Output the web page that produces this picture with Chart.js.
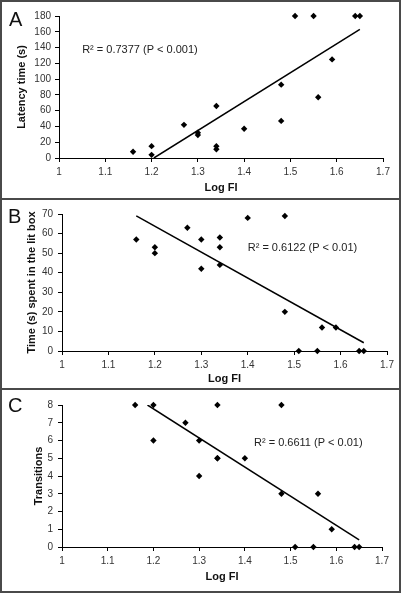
<!DOCTYPE html>
<html>
<head>
<meta charset="utf-8">
<script src="https://cdn.jsdelivr.net/npm/chart.js@4.4.1/dist/chart.umd.min.js"></script>
<style>
  html, body { margin: 0; padding: 0; background: #fff; }
  #wrap { position: relative; width: 401px; height: 593px; overflow: hidden; background: #fff; }
  canvas { position: absolute; left: 0; }
  .ln { position: absolute; background: #4a4a4a; z-index: 5; }
  .lbl { position: absolute; font-family: "Liberation Sans", Arial, sans-serif; font-size: 20px; color: #111; z-index: 6; line-height: 1; }
</style>
</head>
<body>
<div id="wrap">
  <canvas id="cA" width="401" height="199" style="top:0;width:401px;height:199px"></canvas>
  <canvas id="cB" width="401" height="189" style="top:200px;width:401px;height:189px"></canvas>
  <canvas id="cC" width="401" height="201" style="top:390px;width:401px;height:201px"></canvas>
  <div class="ln" style="left:0;top:0;width:401px;height:2px"></div>
  <div class="ln" style="left:0;top:591px;width:401px;height:2px"></div>
  <div class="ln" style="left:0;top:0;width:2px;height:593px"></div>
  <div class="ln" style="left:399px;top:0;width:2px;height:593px"></div>
  <div class="ln" style="left:0;top:198px;width:401px;height:2px"></div>
  <div class="ln" style="left:0;top:388px;width:401px;height:2px"></div>
  <div class="lbl" style="left:9px;top:9px">A</div>
  <div class="lbl" style="left:8px;top:206px">B</div>
  <div class="lbl" style="left:8px;top:395px">C</div>
</div>
<script>
// ---- data ----
const logFI = [1.16, 1.20, 1.20, 1.27, 1.30, 1.30, 1.34, 1.34, 1.34, 1.40, 1.48, 1.48, 1.51, 1.55, 1.56, 1.59, 1.64, 1.65];
const latency = [8, 15, 4, 42, 32, 29, 66, 15, 11, 37, 93, 47, 180, 180, 77, 125, 180, 180];
const litTime = [57, 53, 50, 63, 57, 42, 58, 53, 44, 68, 69, 20, 0, 0, 12, 12, 0, 0];
const transitions = [8, 8, 6, 7, 6, 4, 8, 5, 5, 5, 8, 3, 0, 0, 3, 1, 0, 0];

const trendA_x = [1.205, 1.65], trendA_y = [0, 163];
const trendB_x = [1.16, 1.65], trendB_y = [69, 4.2];
const trendC_x = [1.187, 1.65], trendC_y = [8, 0.4];

const xTicks = [1, 1.1, 1.2, 1.3, 1.4, 1.5, 1.6, 1.7];
const yTicksA = [0, 20, 40, 60, 80, 100, 120, 140, 160, 180];
const yTicksB = [0, 10, 20, 30, 40, 50, 60, 70];
const yTicksC = [0, 1, 2, 3, 4, 5, 6, 7, 8];

const titleX = "Log FI";
const titleA = "Latency time (s)";
const titleB = "Time (s) spent in the lit box";
const titleC = "Transitions";
const noteA = "R\u00B2 = 0.7377 (P < 0.001)";
const noteB = "R\u00B2 = 0.6122 (P < 0.01)";
const noteC = "R\u00B2 = 0.6611 (P < 0.01)";

const FONT = '"Liberation Sans", Arial, sans-serif';

function pts(xs, ys) { return xs.map((x, i) => ({ x: x, y: ys[i] })); }

const notePlugin = {
  id: 'note',
  afterDatasetsDraw(chart, args, opts) {
    const ctx = chart.ctx;
    const px = chart.scales.x.getPixelForValue(opts.x);
    const py = chart.scales.y.getPixelForValue(opts.y);
    ctx.save();
    ctx.font = '11px ' + FONT;
    ctx.fillStyle = '#222';
    ctx.textBaseline = 'middle';
    ctx.textAlign = 'left';
    ctx.fillText(opts.text, px, py);
    ctx.restore();
  }
};

function makeChart(id, ys, yTicks, tx, ty, yTitle, cfg) {
  const ymin = yTicks[0], ymax = yTicks[yTicks.length - 1];
  const step = yTicks[1] - yTicks[0];
  return new Chart(document.getElementById(id), {
    type: 'scatter',
    data: {
      datasets: [
        {
          data: pts(logFI, ys),
          pointStyle: 'rectRot',
          pointRadius: 3.2,
          pointBackgroundColor: '#000',
          pointBorderColor: '#000',
          pointBorderWidth: 0,
          showLine: false,
          clip: false
        },
        {
          data: pts(tx, ty),
          showLine: true,
          borderColor: '#000',
          borderWidth: 1.5,
          pointRadius: 0,
          fill: false
        }
      ]
    },
    plugins: [notePlugin],
    options: {
      responsive: false,
      animation: false,
      devicePixelRatio: 1,
      layout: { padding: { left: 0, top: cfg.padTop, right: cfg.padRight, bottom: 0 } },
      plugins: {
        legend: { display: false },
        tooltip: { enabled: false },
        note: { x: cfg.noteX, y: cfg.noteY, text: cfg.note }
      },
      scales: {
        x: {
          type: 'linear',
          min: xTicks[0], max: xTicks[xTicks.length - 1],
          afterBuildTicks: (s) => { s.ticks = xTicks.map(v => ({ value: v })); },
          afterFit: (s) => { s.height = cfg.xH; },
          ticks: {
            font: { family: FONT, size: 10 }, color: '#333', padding: 4,
            maxRotation: 0, autoSkip: false,
            callback: (v) => String(Number(v.toFixed(1)))
          },
          grid: { drawOnChartArea: false, drawTicks: true, tickLength: 4, color: '#000', lineWidth: 1 },
          border: { display: true, color: '#000', width: 1 },
          title: { display: true, text: titleX, font: { family: FONT, size: 11, weight: 'bold' }, color: '#111', padding: { top: 0, bottom: cfg.xTitlePad } }
        },
        y: {
          type: 'linear',
          min: ymin, max: ymax,
          afterBuildTicks: (s) => { s.ticks = yTicks.map(v => ({ value: v })); },
          afterFit: (s) => { s.width = cfg.yW; },
          ticks: {
            font: { family: FONT, size: 10 }, color: '#333', padding: cfg.yTickPad,
            stepSize: step, autoSkip: false
          },
          grid: { drawOnChartArea: false, drawTicks: true, tickLength: 4, color: '#000', lineWidth: 1 },
          border: { display: true, color: '#000', width: 1 },
          title: { display: true, text: yTitle, font: { family: FONT, size: 11, weight: 'bold' }, color: '#111', padding: { top: cfg.yTitlePad, bottom: 0 } }
        }
      }
    }
  });
}

makeChart('cA', latency, yTicksA, trendA_x, trendA_y, titleA, {
  padTop: 16, padRight: 18, xH: 41, yW: 59, xTitlePad: 4, yTitlePad: 15, yTickPad: 4,
  noteX: 1.05, noteY: 137, note: noteA
});
makeChart('cB', litTime, yTicksB, trendB_x, trendB_y, titleB, {
  padTop: 14, padRight: 14, xH: 38, yW: 62, xTitlePad: 3, yTitlePad: 25, yTickPad: 5,
  noteX: 1.40, noteY: 52.6, note: noteB
});
makeChart('cC', transitions, yTicksC, trendC_x, trendC_y, titleC, {
  padTop: 15, padRight: 19, xH: 44, yW: 62, xTitlePad: 7, yTitlePad: 32, yTickPad: 5,
  noteX: 1.42, noteY: 5.86, note: noteC
});
</script>
</body>
</html>
